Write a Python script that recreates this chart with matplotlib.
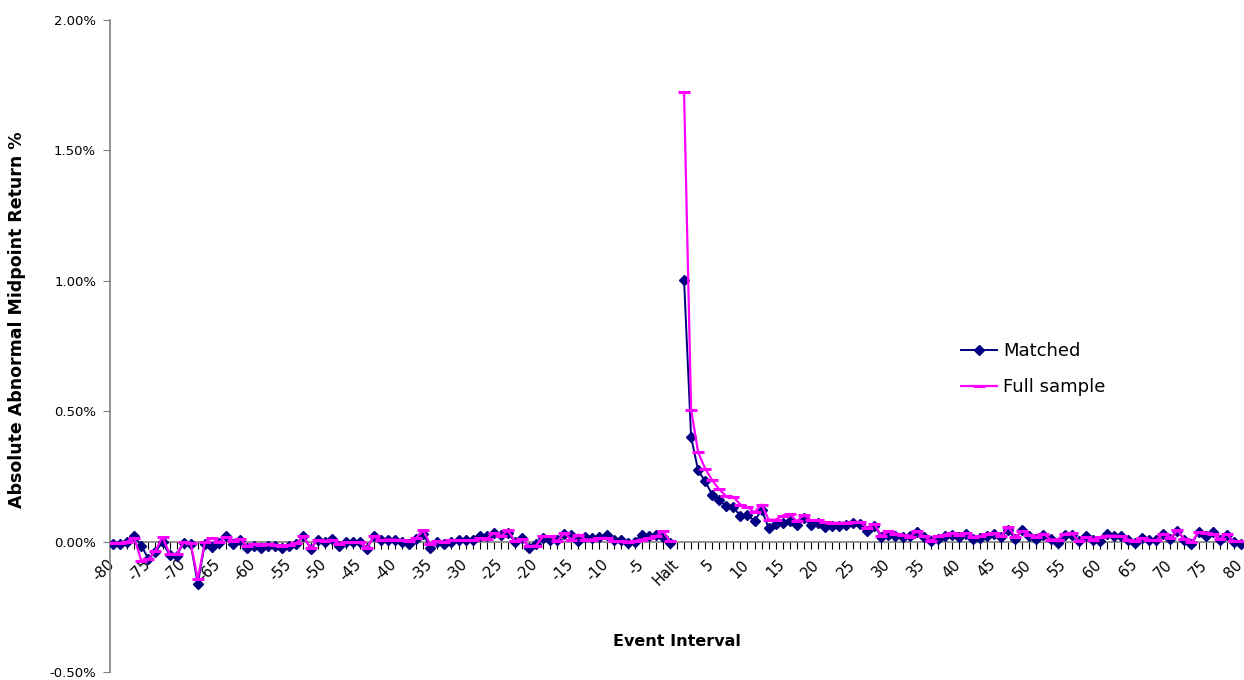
import numpy as np
import matplotlib
matplotlib.use("Agg")
import matplotlib.pyplot as plt
from matplotlib.ticker import FuncFormatter, FixedLocator, MultipleLocator
import matplotlib.transforms as mtransforms

# Categories: -80 .. -1, Halt, 1 .. 80
categories = [str(v) for v in range(-80, 0)] + ["Halt"] + [str(v) for v in range(1, 81)]

# Absolute abnormal midpoint return (%), Matched series
matched_pre = [-0.009, -0.009, -0.003, 0.020, -0.015, -0.067, -0.038, -0.003, -0.050, -0.055,
               -0.004, -0.009, -0.162, -0.009, -0.020, -0.005, 0.020, -0.011, 0.005, -0.024,
               -0.018, -0.024, -0.015, -0.018, -0.024, -0.018, -0.009, 0.023, -0.028, 0.008,
               -0.003, 0.010, -0.015, 0.000, -0.003, -0.003, -0.028, 0.023, 0.005, 0.005,
               0.005, 0.000, -0.010, 0.010, 0.030, -0.024, 0.000, -0.011, 0.000, 0.005,
               0.005, 0.008, 0.023, 0.023, 0.033, 0.027, 0.033, 0.000, 0.014, -0.024,
               -0.011, 0.014, 0.008, 0.008, 0.030, 0.027, 0.004, 0.017, 0.014, 0.017,
               0.027, 0.008, 0.005, -0.005, 0.000, 0.027, 0.020, 0.027, 0.017, -0.005]
matched_halt = [np.nan]
matched_post = [1.004, 0.401, 0.273, 0.231, 0.180, 0.158, 0.138, 0.133, 0.097, 0.103,
                0.078, 0.123, 0.052, 0.068, 0.072, 0.080, 0.063, 0.090, 0.063, 0.072,
                0.055, 0.059, 0.059, 0.065, 0.070, 0.068, 0.040, 0.061, 0.018, 0.027,
                0.020, 0.017, 0.020, 0.036, 0.017, 0.001, 0.010, 0.020, 0.027, 0.017,
                0.030, 0.010, 0.014, 0.023, 0.031, 0.017, 0.046, 0.010, 0.046, 0.020,
                0.010, 0.027, 0.010, -0.005, 0.027, 0.027, 0.001, 0.020, 0.008, 0.001,
                0.030, 0.023, 0.020, 0.008, -0.005, 0.014, 0.005, 0.008, 0.030, 0.010,
                0.040, 0.008, -0.009, 0.036, 0.023, 0.036, 0.005, 0.027, -0.003, -0.009]

# Full sample series
full_pre = [-0.005, -0.005, 0.000, 0.014, -0.075, -0.068, -0.035, 0.018, -0.047, -0.049,
            -0.003, -0.006, -0.143, -0.003, 0.014, -0.003, 0.018, 0.001, 0.010, -0.018,
            -0.008, -0.012, -0.010, -0.012, -0.015, -0.012, -0.006, 0.020, -0.024, 0.005,
            0.001, 0.008, -0.008, -0.003, -0.003, -0.003, -0.024, 0.020, 0.005, 0.008,
            0.008, 0.005, 0.001, 0.014, 0.043, -0.011, 0.001, -0.003, 0.005, 0.005,
            0.005, 0.005, 0.014, 0.010, 0.033, 0.020, 0.043, 0.001, 0.010, -0.018,
            -0.015, 0.020, 0.020, 0.001, 0.033, 0.008, 0.027, 0.008, 0.008, 0.014,
            0.014, 0.001, 0.001, -0.003, 0.001, 0.008, 0.014, 0.020, 0.040, 0.001]
full_halt = [np.nan]
full_post = [1.724, 0.506, 0.342, 0.280, 0.235, 0.200, 0.174, 0.171, 0.142, 0.133,
             0.112, 0.142, 0.084, 0.084, 0.100, 0.106, 0.078, 0.103, 0.082, 0.082,
             0.075, 0.072, 0.072, 0.072, 0.075, 0.075, 0.052, 0.069, 0.020, 0.040,
             0.031, 0.027, 0.018, 0.040, 0.020, 0.004, 0.020, 0.027, 0.033, 0.027,
             0.033, 0.018, 0.020, 0.029, 0.033, 0.020, 0.056, 0.018, 0.040, 0.027,
             0.018, 0.031, 0.008, 0.008, 0.029, 0.033, 0.001, 0.018, 0.008, 0.018,
             0.023, 0.023, 0.020, 0.008, 0.001, 0.014, 0.008, 0.005, 0.031, 0.014,
             0.043, 0.010, -0.003, 0.036, 0.033, 0.029, 0.010, 0.029, 0.001, 0.001]

matched = np.array(matched_pre + matched_halt + matched_post, dtype=float)
full = np.array(full_pre + full_halt + full_post, dtype=float)

y_ticks = [-0.5, 0.0, 0.5, 1.0, 1.5, 2.0]
label_step = 5

fig = plt.figure(figsize=(12.44, 6.8), dpi=100)
ax = fig.add_axes([110 / 1244, 8 / 680, 1134 / 1244, 652 / 680])

x = np.arange(len(categories))
ax.plot(x, matched, color="#000080", lw=1.4, marker="D", markersize=5.5,
        markerfacecolor="#000080", markeredgecolor="#000080", label="Matched", zorder=3)
ax.plot(x, full, color="#FF00FF", lw=1.6, marker="_", markersize=9, markeredgewidth=2.2,
        label="Full sample", zorder=4)

ax.set_xlim(-0.45, len(categories) - 0.55)
ax.set_ylim(-0.5, 2.0)

for s in ["top", "right"]:
    ax.spines[s].set_visible(False)
ax.spines["left"].set_color("#808080")
ax.spines["left"].set_linewidth(1.2)
ax.spines["bottom"].set_position(("data", 0))
ax.spines["bottom"].set_color("#808080")
ax.spines["bottom"].set_linewidth(1.2)

ax.yaxis.set_major_locator(FixedLocator(y_ticks))
ax.yaxis.set_major_formatter(FuncFormatter(lambda v, p: f"{v:.2f}%"))
ax.tick_params(axis="y", direction="out", length=5, color="#808080", labelsize=9.5, pad=5)

ticks = list(range(0, len(categories), label_step))
ax.xaxis.set_major_locator(FixedLocator(ticks))
ax.xaxis.set_minor_locator(MultipleLocator(1))
ax.set_xticklabels([categories[i] for i in ticks])
ax.tick_params(axis="x", which="both", direction="out", length=5, color="#000000", width=0.8)
ax.tick_params(axis="x", which="major", labelsize=10.5, pad=6)
offset = mtransforms.ScaledTranslation(-6 / 100, 0, fig.dpi_scale_trans)
for lab in ax.get_xticklabels():
    lab.set_rotation(45)
    lab.set_ha("right")
    lab.set_va("top")
    lab.set_rotation_mode("anchor")
    lab.set_transform(lab.get_transform() + offset)

fig.text(17 / 1244, 1 - 320 / 680, "Absolute Abnormal Midpoint Return %", rotation=90,
         ha="center", va="center", fontsize=12.5, fontweight="bold")
fig.text(677 / 1244, 1 - 642 / 680, "Event Interval", ha="center", va="center",
         fontsize=11.5, fontweight="bold")

leg = ax.legend(loc="upper left", bbox_to_anchor=(945 / 1244, 1 - 326 / 680),
                bbox_transform=fig.transFigure, frameon=False, fontsize=13,
                handlelength=2.0, handletextpad=0.3, labelspacing=1.0)

fig.savefig("out.png", dpi=100)
